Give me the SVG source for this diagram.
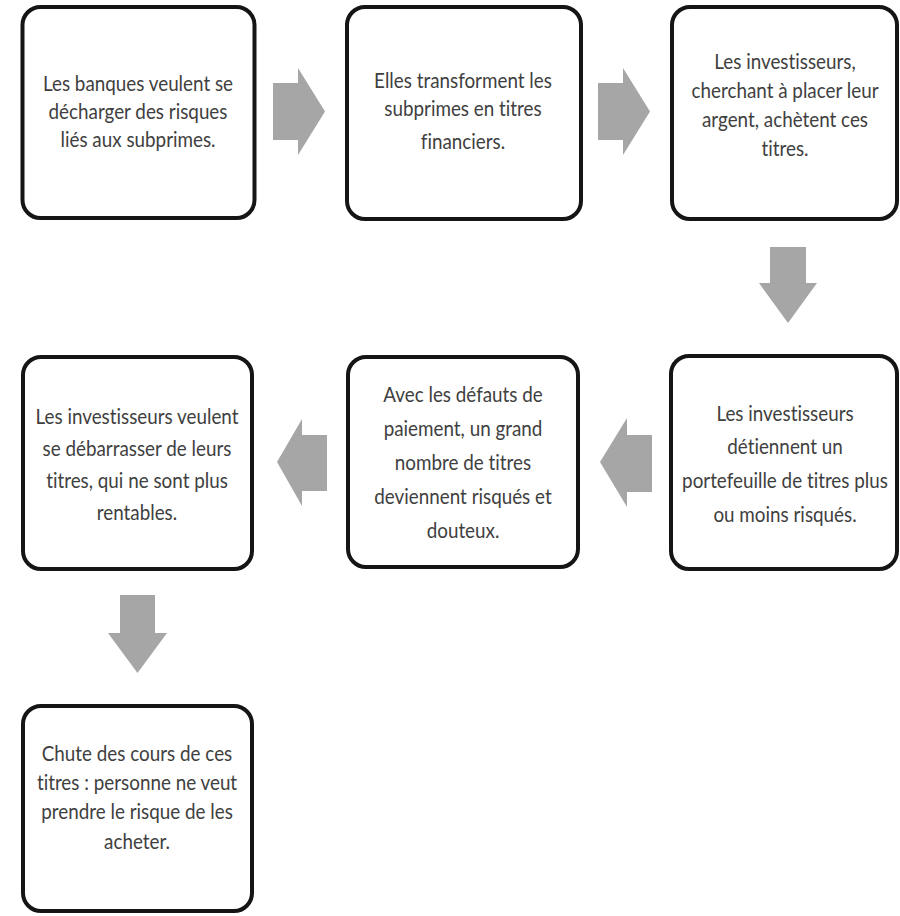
<svg xmlns="http://www.w3.org/2000/svg" width="900" height="916" viewBox="0 0 900 916">
<style>
.box{fill:#ffffff;stroke:#151515;stroke-width:4}
.t{font-family:Lato,"Liberation Sans",sans-serif;font-size:22px;fill:#404040;text-anchor:middle;font-variant-ligatures:none;font-feature-settings:"liga" 0,"dlig" 0}
.arr{fill:#a6a6a6}
</style>
<rect width="900" height="916" fill="#ffffff"/>
<g id="connectors">
<polygon class="arr" points="273,83 298,83 298,68 325,111.5 298,155 298,140 273,140"/>
<polygon class="arr" points="598,83 623,83 623,68 650,111.5 623,155 623,140 598,140"/>
<polygon class="arr" points="770,247 806,247 806,283 817,283 788,323 759,283 770,283"/>
<polygon class="arr" points="652,435 627,435 627,418 600,462 627,507 627,492 652,492"/>
<polygon class="arr" points="327,435 302,435 302,419 277,462 302,506 302,491 327,491"/>
<polygon class="arr" points="120,595 155,595 155,633 167,633 137.5,673 108,633 120,633"/>
</g>
<g id="n1">
<rect class="box" x="22.5" y="7" width="232" height="211" rx="18"/>
<text class="t" transform="translate(138 0) scale(0.856 1)"><tspan x="0" y="91">Les banques veulent se</tspan><tspan x="0" y="119">décharger des risques</tspan><tspan x="0" y="147">liés aux subprimes.</tspan></text>
</g>
<g id="n2">
<rect class="box" x="347" y="7" width="234" height="212" rx="18"/>
<text class="t" transform="translate(463 0) scale(0.856 1)"><tspan x="0" y="88">Elles transforment les</tspan><tspan x="0" y="116">subprimes en titres</tspan><tspan x="0" y="149">financiers.</tspan></text>
</g>
<g id="n3">
<rect class="box" x="672" y="7" width="225" height="212" rx="18"/>
<text class="t" transform="translate(785 0) scale(0.856 1)"><tspan x="0" y="69">Les investisseurs,</tspan><tspan x="0" y="98">cherchant à placer leur</tspan><tspan x="0" y="127">argent, achètent ces</tspan><tspan x="0" y="156">titres.</tspan></text>
</g>
<g id="n4">
<rect class="box" x="671" y="356" width="226" height="213" rx="18"/>
<text class="t" transform="translate(785 0) scale(0.856 1)"><tspan x="0" y="421">Les investisseurs</tspan><tspan x="0" y="454">détiennent un</tspan><tspan x="0" y="488">portefeuille de titres plus</tspan><tspan x="0" y="522">ou moins risqués.</tspan></text>
</g>
<g id="n5">
<rect class="box" x="348" y="357" width="230" height="210" rx="18"/>
<text class="t" transform="translate(463 0) scale(0.856 1)"><tspan x="0" y="402">Avec les défauts de</tspan><tspan x="0" y="436">paiement, un grand</tspan><tspan x="0" y="470">nombre de titres</tspan><tspan x="0" y="504">deviennent risqués et</tspan><tspan x="0" y="538">douteux.</tspan></text>
</g>
<g id="n6">
<rect class="box" x="23" y="357" width="229" height="212" rx="18"/>
<text class="t" transform="translate(137 0) scale(0.856 1)"><tspan x="0" y="424">Les investisseurs veulent</tspan><tspan x="0" y="456">se débarrasser de leurs</tspan><tspan x="0" y="488">titres, qui ne sont plus</tspan><tspan x="0" y="520">rentables.</tspan></text>
</g>
<g id="n7">
<rect class="box" x="23" y="706" width="229" height="205" rx="18"/>
<text class="t" transform="translate(137 0) scale(0.856 1)"><tspan x="0" y="761">Chute des cours de ces</tspan><tspan x="0" y="790">titres : personne ne veut</tspan><tspan x="0" y="819">prendre le risque de les</tspan><tspan x="0" y="849">acheter.</tspan></text>
</g>
</svg>
